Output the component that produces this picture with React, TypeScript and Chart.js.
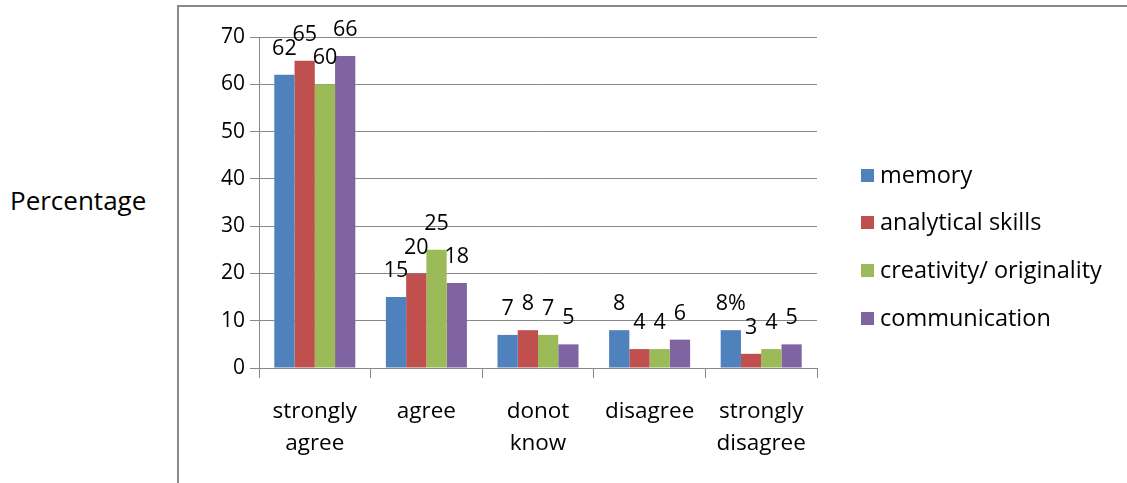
import React, { useEffect, useRef } from "react";
import { Chart, registerables } from "chart.js";

Chart.register(...registerables);

const categories: string[][] = [
  ["strongly", "agree"],
  ["agree"],
  ["donot", "know"],
  ["disagree"],
  ["strongly", "disagree"],
];
const seriesNames = ["memory", "analytical skills", "creativity/ originality", "communication"];
const memory = [62, 15, 7, 8, 8];
const analytical = [65, 20, 8, 4, 3];
const creativity = [60, 25, 7, 4, 4];
const communication = [66, 18, 5, 6, 5];
const memoryLabels = ["62", "15", "7", "8", "8%"];
const analyticalLabels = ["65", "20", "8", "4", "3"];
const creativityLabels = ["60", "25", "7", "4", "4"];
const communicationLabels = ["66", "18", "5", "6", "5"];
const colors = ["#4F81BD", "#C0504D", "#9BBB59", "#8064A2"];
const yTicks = [0, 10, 20, 30, 40, 50, 60, 70];
const yAxisTitle = "Percentage";

const FONT = "'Open Sans', Lato, sans-serif";
const FS = 21;

export default function App() {
  const ref = useRef<HTMLCanvasElement | null>(null);
  useEffect(() => {
    const canvas = ref.current;
    if (!canvas) return;
    const allLabels = [memoryLabels, analyticalLabels, creativityLabels, communicationLabels];
    const labelPlugin = {
      id: "valueLabels",
      afterDatasetsDraw(chart: any) {
        const ctx = chart.ctx;
        ctx.save();
        ctx.font = `21.5px ${FONT}`;
        ctx.fillStyle = "#000";
        ctx.textAlign = "center";
        ctx.textBaseline = "middle";
        chart.data.datasets.forEach((_: any, i: number) => {
          const meta = chart.getDatasetMeta(i);
          meta.data.forEach((bar: any, j: number) => {
            ctx.fillText(allLabels[i][j], bar.x, bar.y - 26);
          });
        });
        ctx.restore();
      },
    };
    const legendPlugin = {
      id: "customLegend",
      afterDraw(chart: any) {
        const ctx = chart.ctx;
        ctx.save();
        ctx.font = `23.5px ${FONT}`;
        ctx.textBaseline = "middle";
        ctx.textAlign = "left";
        const rows = [175, 222, 270, 318];
        seriesNames.forEach((name, i) => {
          ctx.fillStyle = colors[i];
          ctx.fillRect(861, rows[i] - 6, 13, 13);
          ctx.fillStyle = "#000";
          ctx.fillText(name, 880, rows[i] + 1);
        });
        ctx.restore();
      },
    };
    const chart = new Chart(canvas, {
      type: "bar",
      data: {
        labels: categories as any,
        datasets: [
          { label: seriesNames[0], data: memory, backgroundColor: colors[0] },
          { label: seriesNames[1], data: analytical, backgroundColor: colors[1] },
          { label: seriesNames[2], data: creativity, backgroundColor: colors[2] },
          { label: seriesNames[3], data: communication, backgroundColor: colors[3] },
        ],
      },
      options: {
        animation: false,
        responsive: false,
        events: [],
        layout: { padding: { top: 37, right: 310, bottom: 0, left: 0 } },
        datasets: { bar: { categoryPercentage: 0.726, barPercentage: 1 } },
        plugins: { legend: { display: false }, tooltip: { enabled: false } },
        scales: {
          x: {
            offset: true,
            grid: { offset: true, drawOnChartArea: false, drawTicks: true, tickLength: 10, color: "#888" },
            border: { color: "#888", width: 1 },
            ticks: { color: "#000", padding: 18, font: { family: FONT, size: 22.5, lineHeight: 1.42 }, maxRotation: 0 },
            afterFit: (s: any) => { s.height = 115; },
          },
          y: {
            min: 0,
            max: 70,
            afterBuildTicks: (s: any) => { s.ticks = yTicks.map((v) => ({ value: v })); },
            grid: { color: "#888", tickLength: 9, drawTicks: true },
            border: { color: "#888", width: 1 },
            ticks: { color: "#000", padding: 5, font: { family: FONT, size: FS } },
            afterFit: (s: any) => { s.width = 259; },
          },
        },
      },
      plugins: [labelPlugin, legendPlugin],
    });
    return () => chart.destroy();
  }, []);
  return (
    <div style={{ position: "absolute", left: 0, top: 0, width: 1127, height: 483, overflow: "hidden", background: "#fff" }}>
      <div style={{ position: "absolute", left: 177, top: 5, width: 1000, height: 600, border: "2px solid #8a8a8a", boxSizing: "border-box" }} />
      <div style={{ position: "absolute", left: 10, top: 183, fontFamily: FONT, fontSize: 26, color: "#000", lineHeight: "34px" }}>{yAxisTitle}</div>
      <canvas ref={ref} width={1127} height={483} style={{ position: "absolute", left: 0, top: 0 }} />
    </div>
  );
}
